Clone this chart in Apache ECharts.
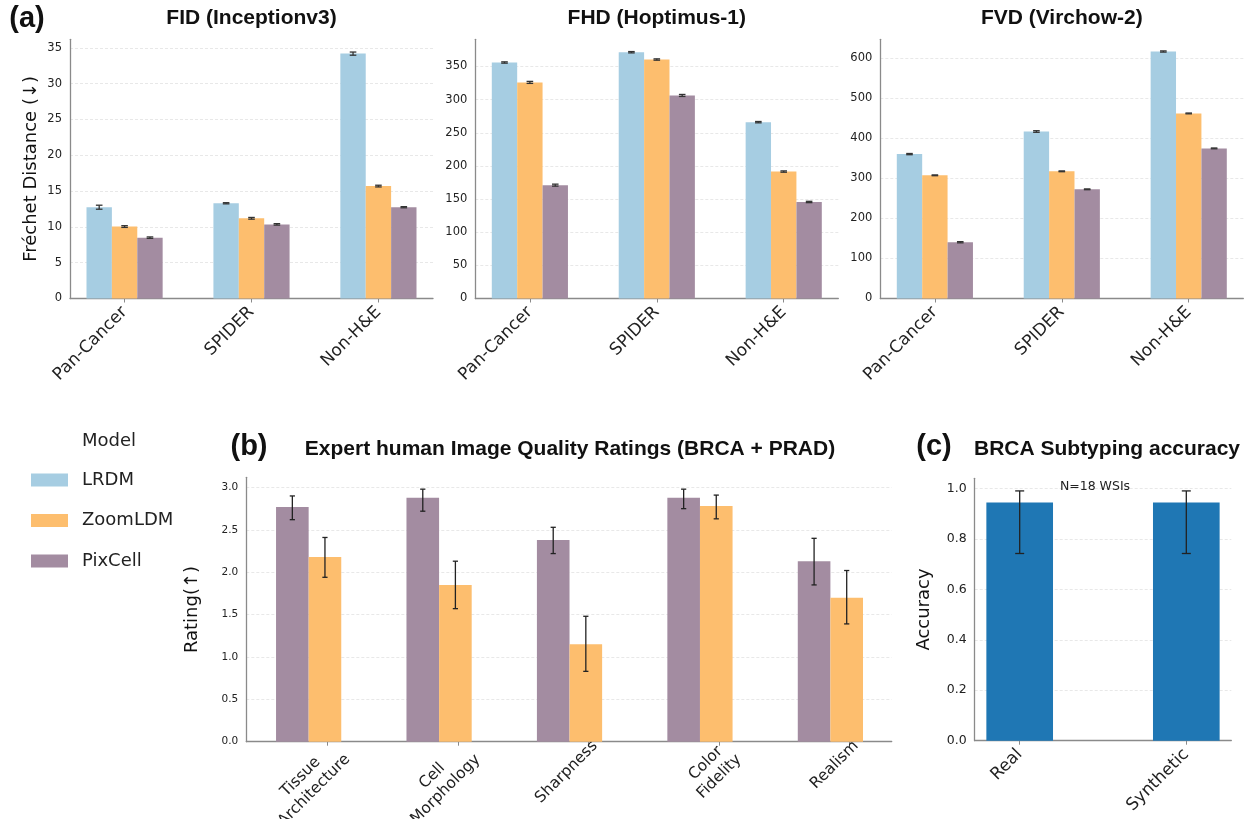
<!DOCTYPE html>
<html>
<head>
<meta charset="utf-8">
<script src="https://cdn.jsdelivr.net/npm/echarts@6/dist/echarts.min.js"></script>
<style>
  html, body { margin: 0; padding: 0; background: #fff; }
  #chart { width: 1248px; height: 819px; }
</style>
</head>
<body>
<div id="chart"></div>
<script>
// ---------- data ----------
const models = ['LRDM', 'ZoomLDM', 'PixCell'];
const datasetCats = ['Pan-Cancer', 'SPIDER', 'Non-H&E'];

// Fréchet distances (mean and half-width of error bar)
const fidLRDM = [12.75, 13.3, 34.2];
const fidLRDMErr = [0.28, 0.08, 0.22];
const fidZoomLDM = [10.05, 11.2, 15.7];
const fidZoomLDMErr = [0.12, 0.12, 0.12];
const fidPixCell = [8.5, 10.35, 12.75];
const fidPixCellErr = [0.1, 0.1, 0.08];

const fhdLRDM = [356, 371.5, 266];
const fhdLRDMErr = [1, 1, 1];
const fhdZoomLDM = [326, 360.5, 191.5];
const fhdZoomLDMErr = [1.5, 1, 1];
const fhdPixCell = [171, 306.3, 145.6];
const fhdPixCellErr = [1.5, 1.5, 1];

const fvdLRDM = [361, 417.5, 617.5];
const fvdLRDMErr = [1.5, 2, 1.5];
const fvdZoomLDM = [308, 318, 462.7];
const fvdZoomLDMErr = [1, 1, 1];
const fvdPixCell = [140.7, 273, 375.3];
const fvdPixCellErr = [1.5, 1, 1];

// Expert ratings: mean with lower / upper interval
const ratingCats = ['Tissue\nArchitecture', 'Cell\nMorphology', 'Sharpness', 'Color\nFidelity', 'Realism'];
const ratingPixCell = [2.77, 2.88, 2.38, 2.88, 2.13];
const ratingPixCellLo = [2.62, 2.72, 2.22, 2.75, 1.85];
const ratingPixCellHi = [2.90, 2.98, 2.53, 2.98, 2.40];
const ratingZoomLDM = [2.18, 1.85, 1.15, 2.78, 1.70];
const ratingZoomLDMLo = [1.94, 1.57, 0.83, 2.63, 1.39];
const ratingZoomLDMHi = [2.41, 2.13, 1.48, 2.91, 2.02];

// Subtyping accuracy
const accCats = ['Real', 'Synthetic'];
const accMean = [0.944, 0.944];
const accLo = [0.742, 0.742];
const accHi = [0.99, 0.99];

// ---------- style ----------
const COLORS = { LRDM: '#a6cde2', ZoomLDM: '#fdbe6e', PixCell: '#a38ca1' };
const FONT = 'DejaVu Sans';
const TFONT = 'Liberation Sans';
const AXIS_COLOR = '#8a8a8a';
const GRID_LINE = { show: true, showMaxLine: false, lineStyle: { color: '#e2e2e2', type: [3, 2], width: 0.8 } };

// ---------- helpers ----------
function withErr(mean, err) {
  return mean.map((v, i) => [i, v, v - err[i], v + err[i]]);
}
function withRange(mean, lo, hi) {
  return mean.map((v, i) => [i, v, lo[i], hi[i]]);
}

// bar + error bar drawn through the axis scales
function barSeries(name, gridIdx, data, offset, width, capHalf, errColor) {
  return {
    type: 'custom',
    name: name,
    xAxisIndex: gridIdx,
    yAxisIndex: gridIdx,
    itemStyle: { color: COLORS[name] || '#1f77b4' },
    encode: { x: 0, y: 1 },
    data: data,
    renderItem: function (params, api) {
      const x = api.value(0), v = api.value(1), lo = api.value(2), hi = api.value(3);
      const pTop = api.coord([x + offset - width / 2, v]);
      const pBot = api.coord([x + offset + width / 2, 0]);
      const cx = api.coord([x + offset, 0])[0];
      const yLo = api.coord([x, lo])[1];
      const yHi = api.coord([x, hi])[1];
      const lineStyle = { stroke: errColor, lineWidth: 1.3 };
      return {
        type: 'group',
        children: [
          { type: 'rect', shape: { x: pTop[0], y: pTop[1], width: pBot[0] - pTop[0], height: pBot[1] - pTop[1] },
            style: { fill: api.visual('color') } },
          { type: 'line', shape: { x1: cx, y1: yLo, x2: cx, y2: yHi }, style: lineStyle },
          { type: 'line', shape: { x1: cx - capHalf, y1: yLo, x2: cx + capHalf, y2: yLo }, style: lineStyle },
          { type: 'line', shape: { x1: cx - capHalf, y1: yHi, x2: cx + capHalf, y2: yHi }, style: lineStyle }
        ]
      };
    }
  };
}

function xAxis(gridIdx, cats, min, max, fontSize, extra) {
  const ticks = cats.map((c, i) => i);
  return Object.assign({
    type: 'value', gridIndex: gridIdx, min: min, max: max,
    axisLine: { show: true, onZero: false, lineStyle: { color: AXIS_COLOR, width: 1.3 } },
    axisTick: { show: true, customValues: ticks, length: 4, lineStyle: { color: AXIS_COLOR } },
    splitLine: { show: false },
    axisLabel: {
      customValues: ticks, rotate: 45, margin: 11,
      fontFamily: FONT, fontSize: fontSize, color: '#222',
      formatter: v => cats[Math.round(v)]
    }
  }, extra || {});
}

function yAxis(gridIdx, max, interval, fontSize, fmt, name, nameGap) {
  return {
    type: 'value', gridIndex: gridIdx, min: 0, max: max, interval: interval,
    axisLine: { show: true, onZero: false, lineStyle: { color: AXIS_COLOR, width: 1.3 } },
    axisTick: { show: false },
    splitLine: GRID_LINE,
    axisLabel: { showMaxLabel: false, fontFamily: FONT, fontSize: fontSize, color: '#222', margin: 8,
      formatter: fmt },
    name: name || '', nameLocation: 'middle', nameGap: nameGap || 0,
    nameTextStyle: { fontFamily: FONT, fontSize: 18, color: '#111' }
  };
}

// width of the longer line of each two-line rating label, for centring the lines
const ctx = document.createElement('canvas').getContext('2d');
const RATING_FS = 15.5;
ctx.font = RATING_FS + 'px "' + FONT + '"';
const ratingRich = {};
const ratingFmt = ratingCats.map((label, i) => {
  const lines = label.split('\n');
  if (lines.length === 1) return label;
  const w = Math.ceil(Math.max(...lines.map(l => ctx.measureText(l).width)));
  const key = 'w' + i;
  ratingRich[key] = { width: w, align: 'center', fontFamily: FONT, fontSize: RATING_FS, lineHeight: 19, color: '#222' };
  return lines.map(l => '{' + key + '|' + l + '}').join('\n');
});

// ---------- layout ----------
const grids = [
  { left: 70, top: 39.3, width: 363, height: 259.2 },
  { left: 475.3, top: 39.3, width: 363, height: 259.2 },
  { left: 880.3, top: 39.3, width: 363, height: 259.2 },
  { left: 246.3, top: 477.3, width: 645.4, height: 264.4 },
  { left: 974.7, top: 478.3, width: 256.6, height: 262.4 }
].map(g => Object.assign({ containLabel: false, outerBoundsMode: 'none' }, g));

const titleStyle = { fontFamily: TFONT, fontWeight: 'bold', fontSize: 21, color: '#111' };
const letterStyle = { fontFamily: TFONT, fontWeight: 'bold', fontSize: 29, color: '#111' };

function titleAt(text, x, y, style) {
  return { text: text, left: x, top: y, textAlign: 'center', textVerticalAlign: 'middle', padding: 0,
    textStyle: style };
}

const option = {
  animation: false,
  backgroundColor: '#fff',
  title: [
    titleAt('(a)', 27, 19, letterStyle),
    titleAt('FID (Inceptionv3)', 251.5, 18, titleStyle),
    titleAt('FHD (Hoptimus-1)', 656.8, 18, titleStyle),
    titleAt('FVD (Virchow-2)', 1061.8, 18, titleStyle),
    titleAt('(b)', 249, 447, letterStyle),
    titleAt('Expert human Image Quality Ratings (BRCA + PRAD)', 570, 449, titleStyle),
    titleAt('(c)', 934, 447, letterStyle),
    titleAt('BRCA Subtyping accuracy', 1107, 449, titleStyle),
    titleAt('N=18 WSIs', 1095, 487, { fontFamily: FONT, fontSize: 12.5, color: '#222', fontWeight: 'normal' }),
    { text: 'Model', left: 82, top: 441, textVerticalAlign: 'middle', padding: 0,
      textStyle: { fontFamily: FONT, fontSize: 18, color: '#222', fontWeight: 'normal' } }
  ],
  legend: {
    orient: 'vertical', left: 31, top: 471, padding: 0,
    itemWidth: 37, itemHeight: 13, itemGap: 22.5,
    selectedMode: false,
    textStyle: { fontFamily: FONT, fontSize: 18, color: '#222', lineHeight: 13, padding: [0, 0, 0, 9] },
    data: models.map(m => ({ name: m, icon: 'rect', itemStyle: { color: COLORS[m] } }))
  },
  grid: grids,
  xAxis: [
    xAxis(0, datasetCats, -0.43, 2.43, 17),
    xAxis(1, datasetCats, -0.43, 2.43, 17),
    xAxis(2, datasetCats, -0.43, 2.43, 17),
    xAxis(3, ratingCats, -0.623, 4.325, RATING_FS, {
      axisLabel: {
        customValues: [0, 1, 2, 3, 4], rotate: 45, margin: -5, verticalAlign: 'top', align: 'right',
        fontFamily: FONT, fontSize: RATING_FS, lineHeight: 19, color: '#222',
        formatter: v => ratingFmt[Math.round(v)], rich: ratingRich
      }
    }),
    xAxis(4, accCats, -0.27, 1.27, 17)
  ],
  yAxis: [
    yAxis(0, 36.2, 5, 11.5, v => String(v), 'Fréchet Distance (↓)', 30),
    yAxis(1, 391, 50, 11.5, v => String(v)),
    yAxis(2, 648, 100, 11.5, v => String(v)),
    yAxis(3, 3.12, 0.5, 10.5, v => v.toFixed(1), 'Rating(↑)', 45),
    yAxis(4, 1.04, 0.2, 12.5, v => v.toFixed(1), 'Accuracy', 41)
  ],
  series: [
    barSeries('LRDM', 0, withErr(fidLRDM, fidLRDMErr), -0.2, 0.2, 3.3, '#333'),
    barSeries('ZoomLDM', 0, withErr(fidZoomLDM, fidZoomLDMErr), 0, 0.2, 3.3, '#333'),
    barSeries('PixCell', 0, withErr(fidPixCell, fidPixCellErr), 0.2, 0.2, 3.3, '#333'),

    barSeries('LRDM', 1, withErr(fhdLRDM, fhdLRDMErr), -0.2, 0.2, 3.3, '#333'),
    barSeries('ZoomLDM', 1, withErr(fhdZoomLDM, fhdZoomLDMErr), 0, 0.2, 3.3, '#333'),
    barSeries('PixCell', 1, withErr(fhdPixCell, fhdPixCellErr), 0.2, 0.2, 3.3, '#333'),

    barSeries('LRDM', 2, withErr(fvdLRDM, fvdLRDMErr), -0.2, 0.2, 3.3, '#333'),
    barSeries('ZoomLDM', 2, withErr(fvdZoomLDM, fvdZoomLDMErr), 0, 0.2, 3.3, '#333'),
    barSeries('PixCell', 2, withErr(fvdPixCell, fvdPixCellErr), 0.2, 0.2, 3.3, '#333'),

    barSeries('PixCell', 3, withRange(ratingPixCell, ratingPixCellLo, ratingPixCellHi), -0.27, 0.25, 2.6, '#222'),
    barSeries('ZoomLDM', 3, withRange(ratingZoomLDM, ratingZoomLDMLo, ratingZoomLDMHi), -0.02, 0.25, 2.6, '#222'),

    barSeries('Accuracy', 4, withRange(accMean, accLo, accHi), 0, 0.4, 4.5, '#222')
  ]
};
option.series[option.series.length - 1].itemStyle = { color: '#1f77b4' };

const chart = echarts.init(document.getElementById('chart'), null, { renderer: 'canvas' });
chart.setOption(option);
</script>
</body>
</html>
